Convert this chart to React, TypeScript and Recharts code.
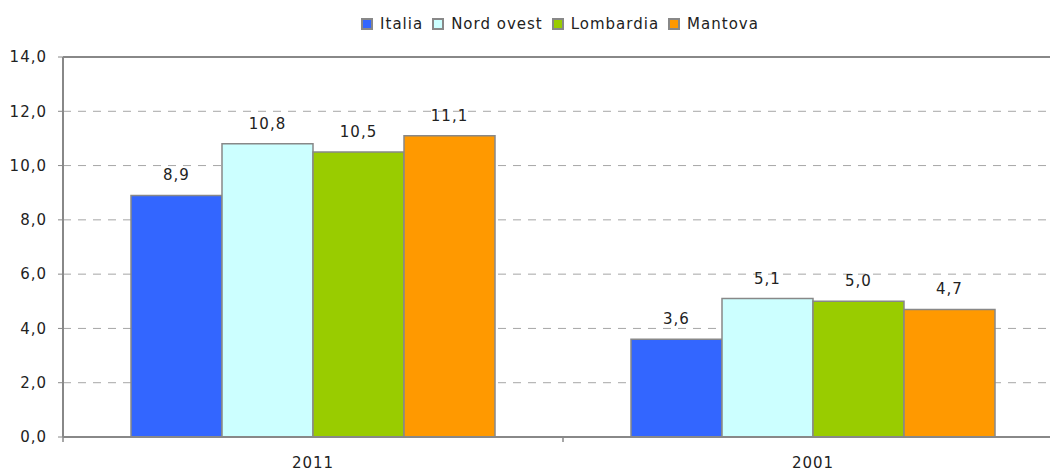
import {
	Bar,
	BarChart,
	CartesianGrid,
	LabelList,
	Legend,
	ReferenceLine,
	XAxis,
	YAxis,
} from "recharts";

const years = ["2011", "2001"];
const italia = [8.9, 3.6];
const nordOvest = [10.8, 5.1];
const lombardia = [10.5, 5.0];
const mantova = [11.1, 4.7];
const yTicks = [0, 2, 4, 6, 8, 10, 12, 14];

const FONT = "'DejaVu Sans', sans-serif";
const TEXT = "#222";
const AXIS = "#888";
const X_TICK_MARGIN = 20;

const series = [
	{ key: "Italia", color: "#3366FF" },
	{ key: "Nord ovest", color: "#CCFFFF" },
	{ key: "Lombardia", color: "#99CC00" },
	{ key: "Mantova", color: "#FF9900" },
];

const data = years.map((year, i) => ({
	year,
	Italia: italia[i],
	"Nord ovest": nordOvest[i],
	Lombardia: lombardia[i],
	Mantova: mantova[i],
}));

const fmt = (v: number) => v.toFixed(1).replace(".", ",");

// category label plus the small tick marks on the category borders
function YearTick({ x, y, payload, index }: any) {
	const half = payload?.offset ?? 0;
	const axisY = y - X_TICK_MARGIN;
	return (
		<g>
			<line
				x1={x - half}
				x2={x - half}
				y1={axisY}
				y2={axisY + 5}
				stroke={AXIS}
				strokeWidth={1.5}
			/>
			{index === years.length - 1 && (
				<line
					x1={x + half}
					x2={x + half}
					y1={axisY}
					y2={axisY + 5}
					stroke={AXIS}
					strokeWidth={1.5}
				/>
			)}
			<text
				x={x}
				y={y}
				dy="0.71em"
				textAnchor="middle"
				fill={TEXT}
				fontSize={15}
				fontFamily={FONT}
				letterSpacing={1}
			>
				{payload.value}
			</text>
		</g>
	);
}

function LegendContent({ payload }: any) {
	// keep the series order, recharts sorts the payload by name
	const items = series
		.map((s) => (payload || []).find((p: any) => p.value === s.key))
		.filter(Boolean);
	return (
		<div
			style={{
				display: "flex",
				justifyContent: "center",
				alignItems: "center",
				fontFamily: FONT,
				fontSize: 15,
				letterSpacing: 1,
				color: TEXT,
				height: 20,
			}}
		>
			{items.map((p: any, i: number) => (
				<div
					key={p.value}
					style={{
						display: "flex",
						alignItems: "center",
						marginLeft: i === 0 ? 0 : 9,
					}}
				>
					<span
						style={{
							display: "inline-block",
							boxSizing: "border-box",
							width: 12,
							height: 12,
							background: p.color,
							border: `2px solid ${AXIS}`,
							marginRight: 7,
						}}
					/>
					<span>{p.value}</span>
				</div>
			))}
		</div>
	);
}

export default function App() {
	return (
		<div
			style={{
				position: "absolute",
				left: 0,
				top: 0,
				width: 1050,
				height: 475,
				overflow: "hidden",
				background: "#fff",
			}}
		>
			<BarChart
				width={1080}
				height={475}
				data={data}
				margin={{ top: 57, right: 17, left: 0, bottom: 0 }}
				barCategoryGap="13.6%"
				barGap={0}
			>
				<CartesianGrid
					vertical={false}
					stroke="#a6a6a6"
					strokeDasharray="8 7"
				/>
				<XAxis
					xAxisId="cat"
					dataKey="year"
					height={38}
					tickSize={0}
					tickMargin={X_TICK_MARGIN}
					axisLine={{ stroke: AXIS, strokeWidth: 2 }}
					tick={<YearTick />}
				/>
				<YAxis
					width={63}
					domain={[0, 14]}
					ticks={yTicks}
					tickFormatter={fmt}
					tickSize={5}
					tickMargin={11}
					axisLine={{ stroke: AXIS, strokeWidth: 2 }}
					tickLine={{ stroke: AXIS }}
					tick={{ fill: TEXT, fontSize: 15, fontFamily: FONT, letterSpacing: 1 }}
				/>
				<ReferenceLine
					y={14}
					xAxisId="cat"
					stroke={AXIS}
					strokeWidth={2}
				/>
				<Legend
					layout="horizontal"
					verticalAlign="middle"
					align="center"
					wrapperStyle={{ top: 14, left: 60, width: 1000 }}
					content={<LegendContent />}
				/>
				{series.map((s) => (
					<Bar
						key={s.key}
						xAxisId="cat"
						dataKey={s.key}
						fill={s.color}
						stroke={AXIS}
						strokeWidth={1.5}
						isAnimationActive={false}
					>
						<LabelList
							dataKey={s.key}
							position="top"
							offset={15}
							formatter={(v: any) => fmt(Number(v))}
							style={{ fill: TEXT, fontSize: 15, fontFamily: FONT, letterSpacing: 1 }}
						/>
					</Bar>
				))}
			</BarChart>
		</div>
	);
}
